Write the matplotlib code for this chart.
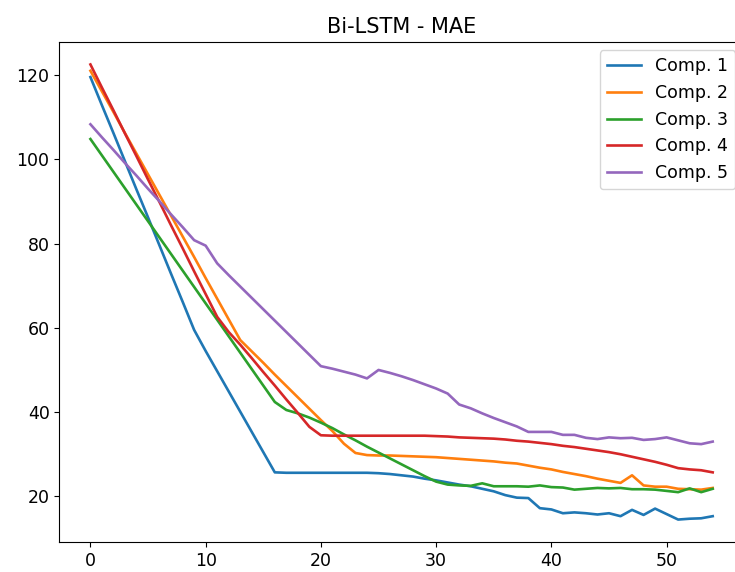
import numpy as np
import matplotlib
matplotlib.use("Agg")
import matplotlib.pyplot as plt

epochs = list(range(55))

comp1 = [119.5, 112.8, 106.2, 99.5, 92.8, 86.2, 79.5, 72.8, 66.2, 59.5,
         54.5, 49.7, 44.9, 40.1, 35.3, 30.5, 25.7, 25.6, 25.6, 25.6,
         25.6, 25.6, 25.6, 25.6, 25.6, 25.5, 25.3, 25.0, 24.7, 24.2,
         23.8, 23.3, 22.8, 22.4, 21.8, 21.2, 20.3, 19.7, 19.6, 17.2,
         16.9, 16.0, 16.2, 16.0, 15.7, 16.0, 15.3, 16.8, 15.6, 17.1,
         15.8, 14.5, 14.7, 14.8, 15.3]

comp2 = [121.0, 116.1, 111.2, 106.2, 101.3, 96.4, 91.5, 86.6, 81.7, 76.8,
         71.8, 66.9, 62.0, 57.1, 54.4, 51.7, 48.9, 46.2, 43.5, 40.8,
         38.1, 35.5, 32.5, 30.3, 29.8, 29.7, 29.7, 29.6, 29.5, 29.4,
         29.3, 29.1, 28.9, 28.7, 28.5, 28.3, 28.0, 27.8, 27.3, 26.8,
         26.4, 25.8, 25.3, 24.8, 24.2, 23.7, 23.2, 25.0, 22.6, 22.3,
         22.3, 21.8, 21.7, 21.6, 22.0]

comp3 = [104.8, 100.9, 97.0, 93.1, 89.2, 85.3, 81.4, 77.5, 73.6, 69.7,
         65.8, 61.9, 58.0, 54.1, 50.2, 46.3, 42.4, 40.5, 39.7, 38.7,
         37.5, 36.2, 34.7, 33.3, 31.8, 30.4, 29.0, 27.6, 26.2, 24.8,
         23.5, 22.8, 22.6, 22.5, 23.1, 22.4, 22.4, 22.4, 22.3, 22.6,
         22.2, 22.1, 21.6, 21.8, 22.0, 21.9, 22.0, 21.7, 21.7, 21.6,
         21.3, 21.0, 21.9, 21.0, 21.8]

comp4 = [122.5, 117.0, 111.6, 106.1, 100.7, 95.2, 89.8, 84.3, 78.9, 73.4,
         68.0, 62.6, 59.0, 56.0, 52.8, 49.5, 46.3, 43.0, 39.8, 36.5,
         34.5, 34.4, 34.4, 34.4, 34.4, 34.4, 34.4, 34.4, 34.4, 34.4,
         34.3, 34.2, 34.0, 33.9, 33.8, 33.7, 33.5, 33.2, 33.0, 32.7,
         32.4, 32.0, 31.7, 31.3, 30.9, 30.5, 30.0, 29.4, 28.8, 28.2,
         27.5, 26.7, 26.4, 26.2, 25.7]

comp5 = [108.3, 105.2, 102.2, 99.1, 96.1, 93.0, 90.0, 86.9, 83.9, 80.8,
         79.5, 75.3, 72.5, 69.8, 67.1, 64.4, 61.7, 59.0, 56.3, 53.6,
         50.9, 50.3, 49.6, 48.9, 48.0, 50.0, 49.3, 48.5, 47.6, 46.6,
         45.6, 44.4, 41.8, 40.9, 39.7, 38.6, 37.6, 36.6, 35.3, 35.3,
         35.3, 34.6, 34.6, 33.9, 33.6, 34.0, 33.8, 33.9, 33.4, 33.6,
         34.0, 33.3, 32.6, 32.4, 33.0]

series = [comp1, comp2, comp3, comp4, comp5]
labels = ["Comp. 1", "Comp. 2", "Comp. 3", "Comp. 4", "Comp. 5"]

plt.rcParams['font.size'] = 12.5

fig = plt.figure(figsize=(7.35, 5.72), dpi=100)
# the reference is cropped on the right, so the axes run past the figure edge
ax = fig.add_axes([0.0807, 0.0519, 0.9313, 0.8752])

for vals, lab in zip(series, labels):
    ax.plot(epochs, vals, label=lab, linewidth=1.9)

ax.set_title("Bi-LSTM - MAE", fontsize=15)
ax.set_yticks([20, 40, 60, 80, 100, 120])
ax.set_xticks([0, 10, 20, 30, 40, 50])
ax.legend(loc="upper right")

fig.savefig("out.png", dpi=100)
